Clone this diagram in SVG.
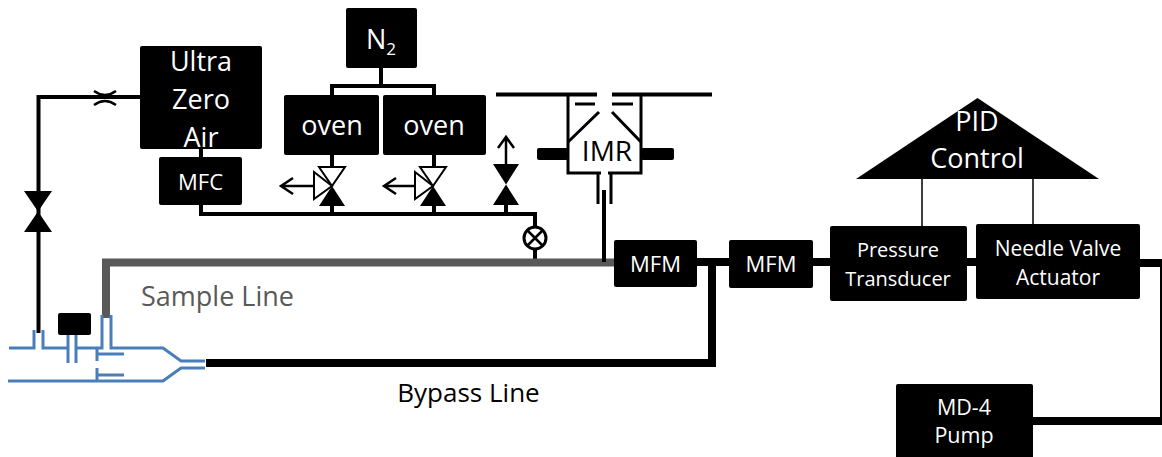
<svg xmlns="http://www.w3.org/2000/svg" width="1162" height="457" viewBox="0 0 1162 457">
<style>
text{font-family:"Open Sans","Noto Sans","Liberation Sans",sans-serif;text-anchor:middle}
.w{fill:#fff}
.box{fill:#000}
.l4{fill:none;stroke:#000;stroke-width:4}
.l8{fill:none;stroke:#000;stroke-width:8}
.thin{fill:none;stroke:#000;stroke-width:1.5}
.blue{fill:none;stroke:#4a7ebb;stroke-width:3}
.gray{fill:none;stroke:#595959;stroke-width:8}
.vb{fill:#000}
.vw{fill:#fff;stroke:#000;stroke-width:2}
.arrow{fill:none;stroke:#000;stroke-width:2.500}
</style>
<g id="connectors">
<path class="l4" d="M140 97H38.500V333"/>
<path class="l4" d="M201 149V157M201 205V214H537M535 214V228M535 249V262"/>
<path class="l4" d="M381 68V86M332 95V86H434V95"/>
<path class="l4" d="M332 155V167M332 206V214M434 155V167M434 206V214M506 205V214"/>
<path class="l8" d="M697 262H729M813 262H830M967 262H976M712 262V367M206 363H716M1140 263H1164V421H1033"/>
<path class="gray" d="M106 318V262.500H614"/>
<path class="l4" d="M604 190V262"/>
<path class="thin" d="M922 179V226M1033 179V224"/>
<path class="arrow" d="M94 91Q105 99 116 91M94 105Q105 97 116 105"/>
</g>
<g id="restrictor-valve"><path class="vb" d="M24 191H52L24 232H52Z"/></g>
<g id="ultra-zero-air"><rect class="box" x="140" y="46" width="122" height="103" rx="2"/>
<text class="w" font-size="27" x="201" y="71">Ultra</text><text class="w" font-size="27" x="201" y="109">Zero</text><text class="w" font-size="27" x="201" y="147">Air</text></g>
<g id="mfc"><rect class="box" x="159" y="157" width="83" height="48" rx="2"/><text class="w" font-size="22" x="200.500" y="190">MFC</text></g>
<g id="n2"><rect class="box" x="346" y="8" width="71" height="60" rx="2"/><text class="w" font-size="27" x="381" y="49">N<tspan font-size="17" dy="6">2</tspan></text></g>
<g id="oven1"><rect class="box" x="284" y="95" width="95" height="60" rx="2"/><text class="w" font-size="27" x="332" y="135">oven</text></g>
<g id="oven2"><rect class="box" x="383" y="95" width="103" height="60" rx="2"/><text class="w" font-size="27" x="434" y="135">oven</text></g>
<g id="valve-oven1"><path class="vw" d="M319 167H345L332 186Z"/><path class="vw" d="M314 172V199L332 186Z"/><path class="vb" d="M332 186L345 206H319Z"/><path class="arrow" d="M314 186H281M293 178L281 186L293 194"/></g>
<g id="valve-oven2"><path class="vw" d="M420 167H446L433 186Z"/><path class="vw" d="M415 172V199L433 186Z"/><path class="vb" d="M433 186L446 206H420Z"/><path class="arrow" d="M415 186H384M396 178L384 186L396 194"/></g>
<g id="valve-vent"><path class="vb" d="M493 164H519L493 205H519Z"/><path class="arrow" d="M506 164V137M498 148L506 137L514 148"/></g>
<g id="cross-valve"><circle cx="535" cy="238" r="11" fill="#fff" stroke="#000" stroke-width="3"/><path class="arrow" d="M527 230L543 246M543 230L527 246"/></g>
<g id="imr">
<path class="l4" d="M496 94.500H597M612 94.500H712"/>
<path d="M568 94.500V173H601M608 173H641V94.500" fill="none" stroke="#000" stroke-width="3"/>
<path d="M575 104H595M612 104H633M568 142L599 112M641 142L612 112M598 173V204M611 173V204" fill="none" stroke="#000" stroke-width="3"/>
<rect class="box" x="537" y="148" width="31" height="12" rx="2"/><rect class="box" x="641" y="148" width="33" height="12" rx="2"/>
<text font-size="28" x="607" y="161" fill="#000">IMR</text></g>
<g id="mfm1"><rect class="box" x="614" y="240" width="83" height="47" rx="2"/><text class="w" font-size="22" x="655.500" y="272">MFM</text></g>
<g id="mfm2"><rect class="box" x="729" y="240" width="84" height="48" rx="2"/><text class="w" font-size="22" x="771" y="272">MFM</text></g>
<g id="pressure"><rect class="box" x="830" y="226" width="137" height="75" rx="2"/><text class="w" font-size="20" x="898" y="257">Pressure</text><text class="w" font-size="20" x="898" y="286">Transducer</text></g>
<g id="needle"><rect class="box" x="976" y="224" width="164" height="75" rx="2"/><text class="w" font-size="21" x="1058" y="256">Needle Valve</text><text class="w" font-size="21" x="1058" y="285">Actuator</text></g>
<g id="pid"><path class="box" d="M856 179L977.500 98L1099 179Z"/><text class="w" font-size="27" x="977" y="131">PID</text><text class="w" font-size="27" x="977" y="168">Control</text></g>
<g id="pump"><rect class="box" x="896" y="384" width="137" height="75" rx="2"/><text class="w" font-size="21.500" x="964" y="415">MD-4</text><text class="w" font-size="21.500" x="964" y="443">Pump</text></g>
<g id="inlet">
<path class="blue" d="M9 348H34V330M43 330V348H68M68 335V363M76 335V363M76 348H102V315M111 315V348H163L181 361H205M8 381H163L181 368H205"/>
<path class="blue" d="M97 348V361M97 354H124M97 368V381M97 375H124"/>
<rect class="box" x="58" y="313" width="33" height="22" rx="2"/>
</g>
<text font-size="27" x="217.500" y="306" fill="#595959">Sample Line</text>
<text font-size="26" x="468.500" y="402" fill="#000">Bypass Line</text>
</svg>
